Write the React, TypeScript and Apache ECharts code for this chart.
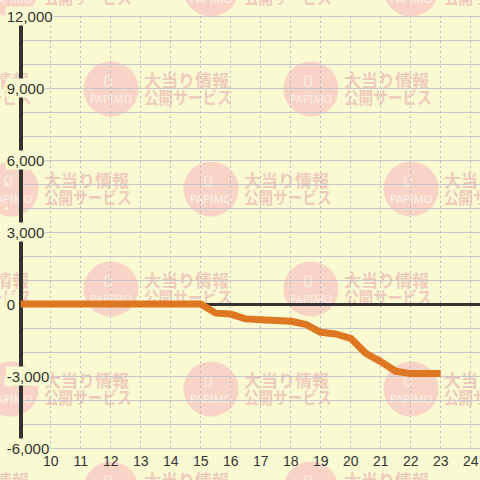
import React, { useEffect, useRef } from "react";
import * as echarts from "echarts";

// Data (hour of day -> cumulative value)
const hours = [9, 15, 15.5, 16, 16.5, 17, 17.5, 18, 18.5, 19, 19.5, 20, 20.5, 21, 21.5, 22, 22.5, 23];
const values = [0, 0, -380, -420, -620, -660, -690, -720, -850, -1180, -1250, -1430, -2050, -2400, -2800, -2900, -2900, -2900];
const yLabelValues = [-6000, -3000, 0, 3000, 6000, 9000, 12000];
const X_MIN = 9;
const X_MAX = 25;
const Y_MIN = -6000;
const Y_MAX = 12000;

const BG = "#fafad2";
const WM_CIRCLE = "#f8d4c6";
const WM_TEXT = "#efcbbd";
const WM_WHITE = "#fdf1ea";

function buildWatermark() {
  const els: any[] = [];
  for (let row = 0; row < 7; row++) {
    const cy = -11 + row * 100;
    const offset = row % 2 === 0 ? 11 : 111;
    for (let cx = offset - 200; cx < 520; cx += 200) {
      els.push({
        type: "circle",
        silent: true,
        z: -10,
        shape: { cx, cy, r: 27.5 },
        style: { fill: WM_CIRCLE },
      });
      els.push({
        type: "rect",
        silent: true,
        z: -9,
        shape: { x: cx - 6, y: cy - 13, width: 6, height: 10, r: 1 },
        style: { fill: "none", stroke: WM_WHITE, lineWidth: 1.2 },
      });
      els.push({
        type: "text",
        silent: true,
        z: -9,
        x: cx,
        y: cy + 9.5,
        style: {
          text: "PAPIMO",
          fill: WM_WHITE,
          fontSize: 11,
          fontFamily: '"Noto Sans", sans-serif',
          align: "center",
          verticalAlign: "middle",
        },
      });
      els.push({
        type: "text",
        silent: true,
        z: -9,
        x: cx + 33,
        y: cy - 10,
        style: {
          text: "大当り情報",
          fill: WM_TEXT,
          fontSize: 17,
          fontWeight: "bold",
          fontFamily: '"Noto Sans CJK JP", sans-serif',
          align: "left",
          verticalAlign: "middle",
        },
      });
      els.push({
        type: "text",
        silent: true,
        z: -9,
        x: cx + 33,
        y: cy + 8,
        scaleX: 0.86,
        style: {
          text: "公開サービス",
          fill: WM_TEXT,
          fontSize: 17,
          fontWeight: "bold",
          fontFamily: '"Noto Sans CJK JP", sans-serif',
          align: "left",
          verticalAlign: "middle",
        },
      });
    }
  }
  return els;
}

export default function App() {
  const ref = useRef<HTMLDivElement>(null);

  useEffect(() => {
    if (!ref.current) return;
    const chart = echarts.init(ref.current, null, { renderer: "svg" });
    const data = hours.map((h, i) => [h, values[i]]);
    const labelFont = "Arial, 'Liberation Sans', sans-serif";
    chart.setOption({
      animation: false,
      backgroundColor: BG,
      graphic: buildWatermark(),
      grid: { left: 20.7, top: 16, width: 480, height: 432 },
      xAxis: [
        {
          type: "value",
          min: X_MIN,
          max: X_MAX,
          interval: 1,
          position: "bottom",
          axisLine: { show: false, onZero: false },
          axisTick: { show: false },
          axisLabel: {
            show: true,
            showMinLabel: false,
            showMaxLabel: false,
            margin: 6,
            color: "#333",
            fontSize: 14,
            fontFamily: labelFont,
          },
          splitLine: {
            show: true,
            lineStyle: { color: "#b8b8c2", width: 1, type: [2, 3] },
          },
        },
        {
          type: "value",
          min: X_MIN,
          max: X_MAX,
          interval: 1,
          position: "bottom",
          axisLine: { show: true, onZero: true, lineStyle: { color: "#333", width: 3 } },
          axisTick: { show: false },
          axisLabel: { show: false },
          splitLine: { show: false },
        },
      ],
      yAxis: {
        type: "value",
        min: Y_MIN,
        max: Y_MAX,
        interval: 1000,
        axisLine: { show: true, onZero: false, lineStyle: { color: "#333", width: 4 } },
        axisTick: { show: false },
        axisLabel: {
          show: true,
          align: "left",
          margin: 15,
          color: "#333",
          fontSize: 15,
          fontFamily: labelFont,
          backgroundColor: BG,
          padding: [2, 1, 2, 1],
          formatter: (v: number) =>
            yLabelValues.indexOf(v) >= 0 ? v.toLocaleString("en-US") : "",
        },
        splitLine: {
          show: true,
          lineStyle: { color: "#c6c6cc", width: 1 },
        },
      },
      series: [
        {
          type: "line",
          xAxisIndex: 0,
          yAxisIndex: 0,
          data,
          symbol: "none",
          smooth: false,
          z: 5,
          lineStyle: { color: "#dd7722", width: 7, join: "round" },
        },
      ],
    });
    return () => chart.dispose();
  }, []);

  return (
    <div
      style={{
        position: "fixed",
        left: 0,
        top: 0,
        width: 480,
        height: 480,
        overflow: "hidden",
        background: BG,
      }}
    >
      <div ref={ref} style={{ width: 520, height: 480 }} />
    </div>
  );
}
